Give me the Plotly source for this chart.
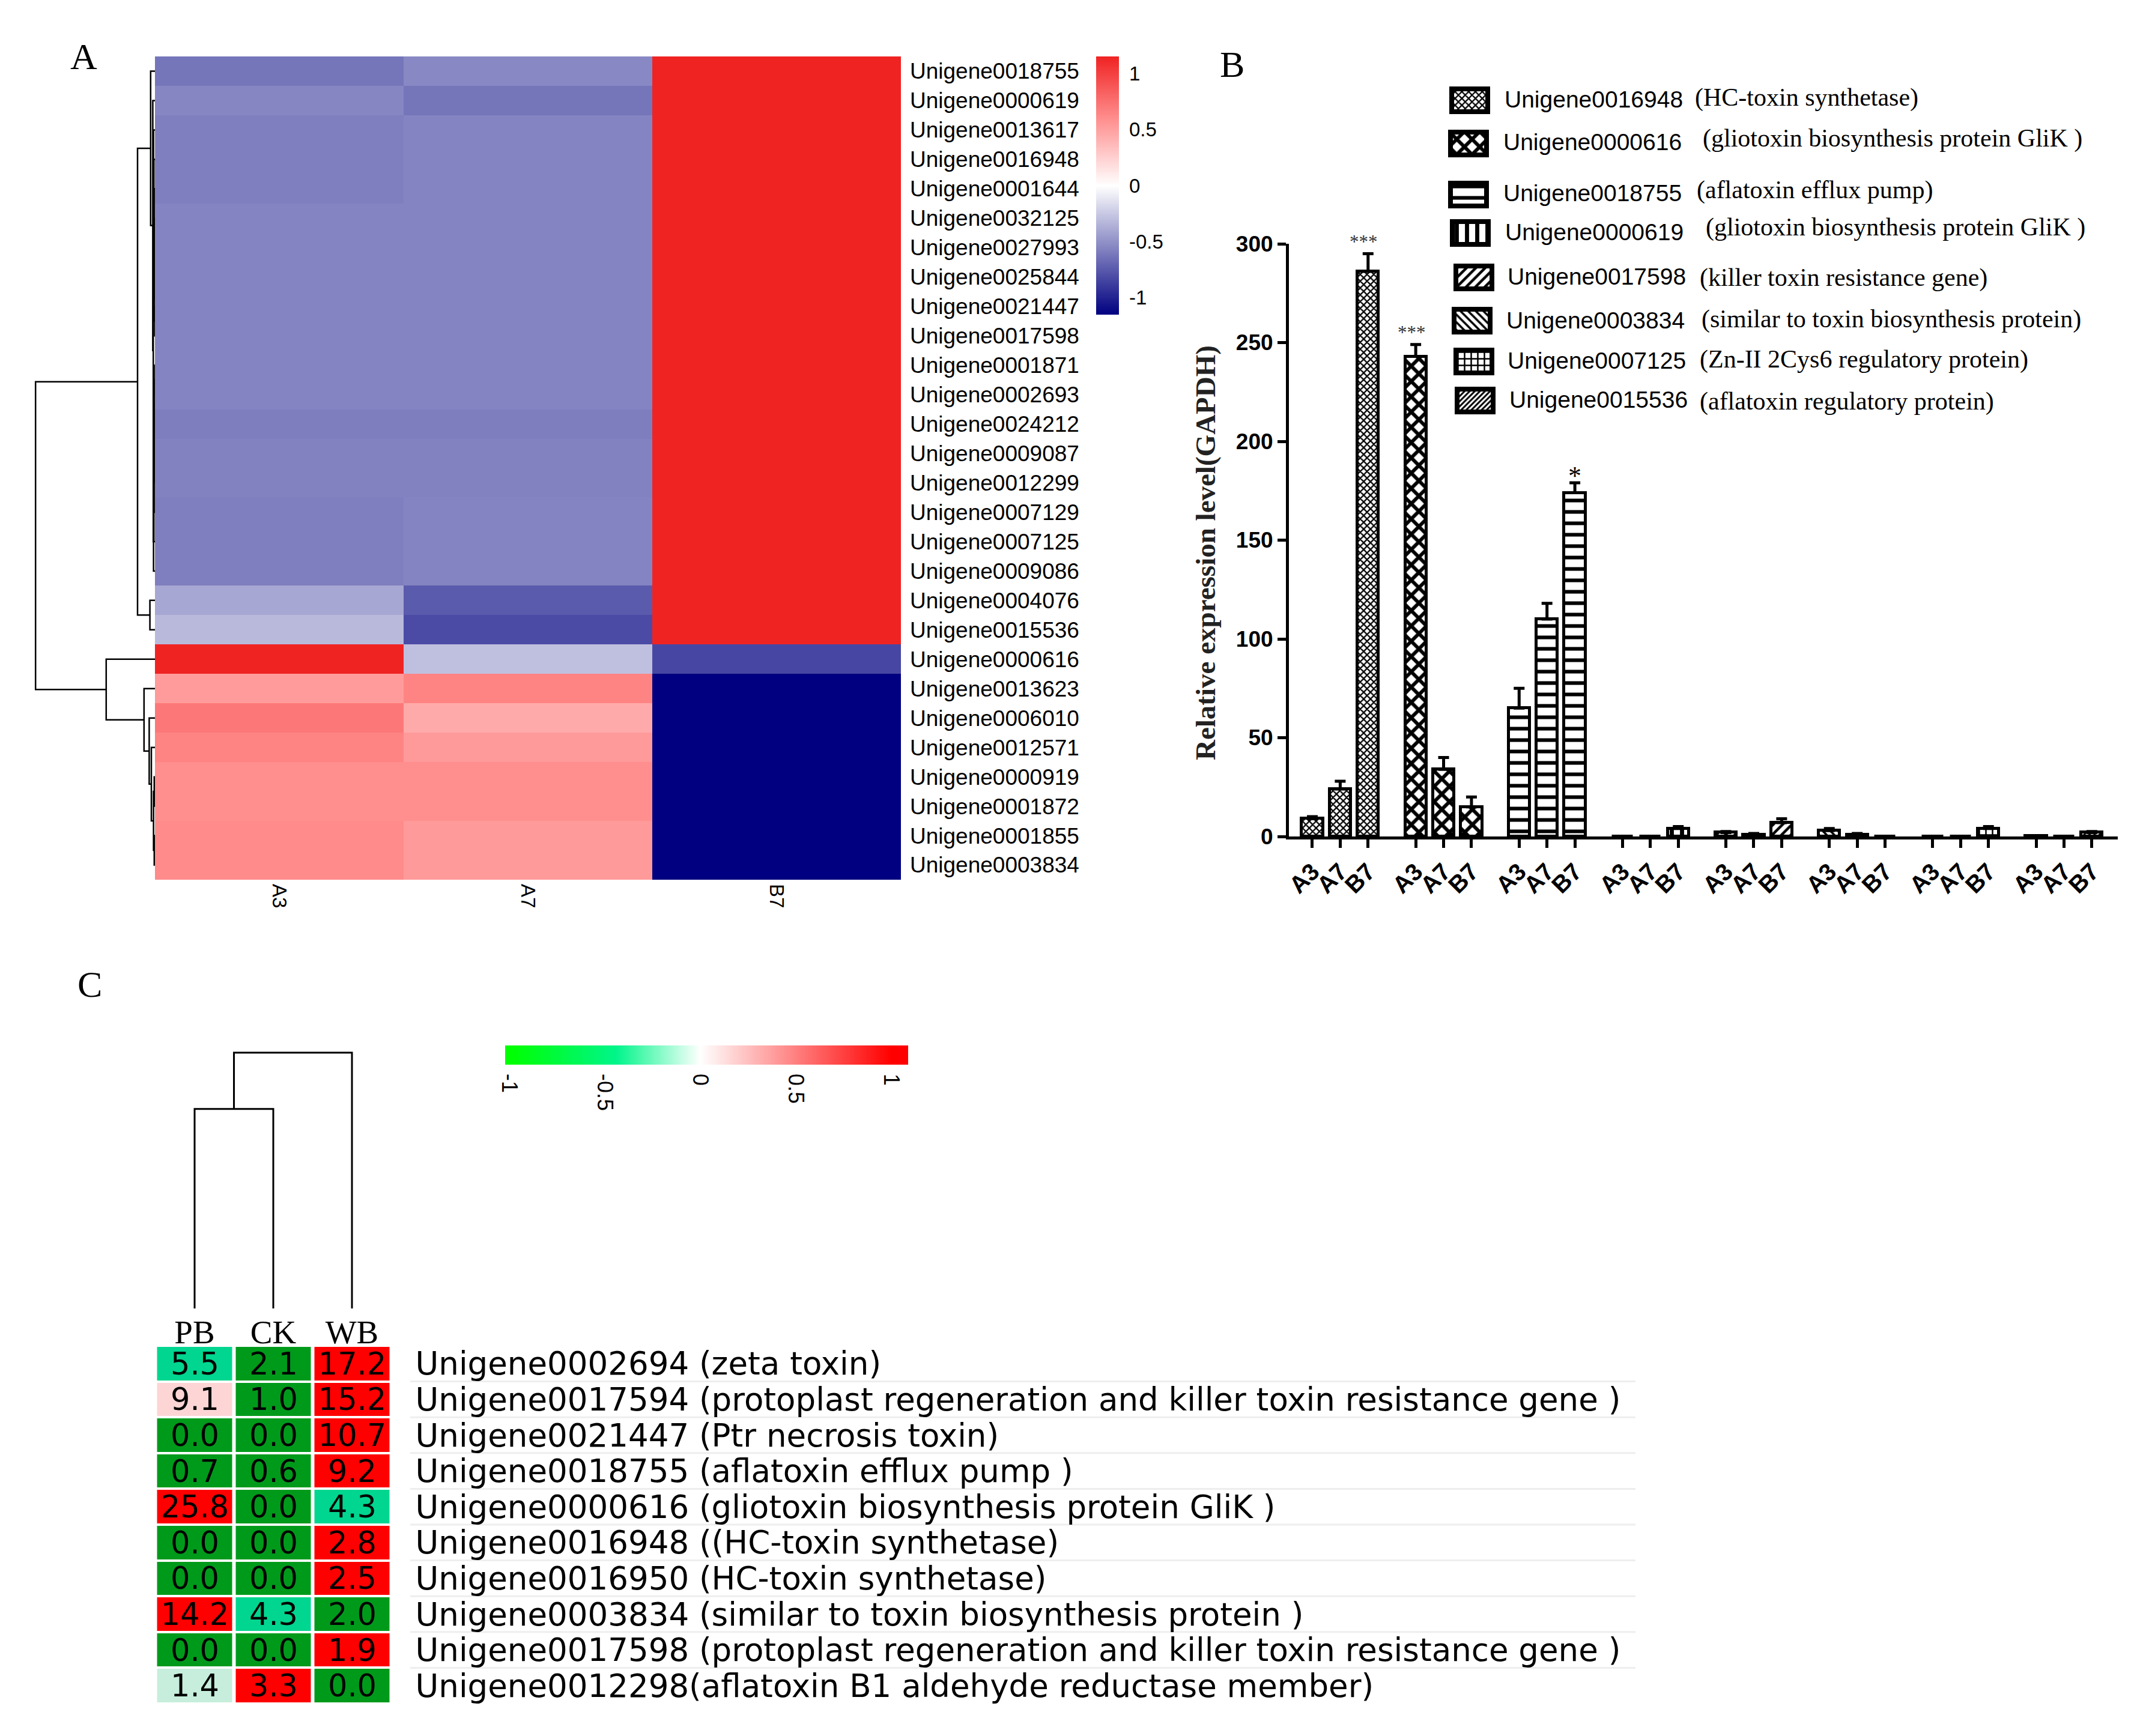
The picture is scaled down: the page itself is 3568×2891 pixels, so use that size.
import numpy as np
import plotly.graph_objects as go

W = 3568
H = 2891
# the page body keeps its default 8 px margin
PAGE_MARGIN = 8

SANS = "Liberation Sans"
SERIF = "Liberation Serif"
WIDE = "DejaVu Sans"

# panel A heatmap
samples_a = ["A3", "A7", "B7"]
genes_a = ["Unigene0018755", "Unigene0000619", "Unigene0013617", "Unigene0016948",
           "Unigene0001644", "Unigene0032125", "Unigene0027993", "Unigene0025844",
           "Unigene0021447", "Unigene0017598", "Unigene0001871", "Unigene0002693",
           "Unigene0024212", "Unigene0009087", "Unigene0012299", "Unigene0007129",
           "Unigene0007125", "Unigene0009086", "Unigene0004076", "Unigene0015536",
           "Unigene0000616", "Unigene0013623", "Unigene0006010", "Unigene0012571",
           "Unigene0000919", "Unigene0001872", "Unigene0001855", "Unigene0003834"]
values_a3 = [-0.627, -0.55, -0.582, -0.582, -0.582, -0.555, -0.555, -0.555, -0.555,
             -0.555, -0.555, -0.555, -0.586, -0.565, -0.565, -0.582, -0.582, -0.582,
             -0.40, -0.316, 1.155, 0.531, 0.714, 0.652, 0.60, 0.60, 0.616, 0.616]
values_a7 = [-0.537, -0.627, -0.555, -0.555, -0.555, -0.555, -0.555, -0.555, -0.555,
             -0.555, -0.555, -0.555, -0.586, -0.565, -0.565, -0.555, -0.555, -0.555,
             -0.744, -0.816, -0.289, 0.652, 0.451, 0.536, 0.60, 0.60, 0.536, 0.536]
values_b7 = [1.155, 1.155, 1.155, 1.155, 1.155, 1.155, 1.155, 1.155, 1.155, 1.155,
             1.155, 1.155, 1.155, 1.155, 1.155, 1.155, 1.155, 1.155, 1.155, 1.155,
             -0.834, -1.155, -1.155, -1.155, -1.155, -1.155, -1.155, -1.155]
cbar_a_ticks = [-1, -0.5, 0, 0.5, 1]
cbar_a_labels = ["-1", "-0.5", "0", "0.5", "1"]

# row tree of panel A: (left node, right node, distance), leaves are row numbers
merges_a = [(8, 9, 0.02), (7, 28, 0.03), (6, 29, 0.04), (5, 30, 0.05), (4, 31, 0.07),
            (3, 32, 0.09), (2, 33, 0.12), (10, 11, 0.02), (35, 12, 0.03), (36, 13, 0.04),
            (37, 14, 0.05), (38, 15, 0.07), (39, 16, 0.09), (40, 17, 0.12), (34, 41, 0.14),
            (1, 42, 0.18), (0, 43, 0.36), (18, 19, 0.42), (44, 45, 1.45), (26, 27, 0.06),
            (24, 25, 0.06), (48, 47, 0.12), (23, 49, 0.30), (22, 50, 0.48), (21, 51, 0.91),
            (20, 52, 4.06), (46, 53, 9.94)]

# panel B bars
bar_samples = ["A3", "A7", "B7"]
bar_genes = ["Unigene0016948", "Unigene0000616", "Unigene0018755", "Unigene0000619",
             "Unigene0017598", "Unigene0003834", "Unigene0007125", "Unigene0015536"]
bar_notes = ["(HC-toxin synthetase)", "(gliotoxin biosynthesis protein GliK )",
             "(aflatoxin efflux pump)", "(gliotoxin biosynthesis protein GliK )",
             "(killer toxin resistance gene)", "(similar to toxin biosynthesis protein)",
             "(Zn-II 2Cys6 regulatory protein)", "(aflatoxin regulatory protein)"]
bar_values = [[9, 24, 286], [243, 34, 15], [65, 110, 174], [0, 0, 4],
              [2, 1, 7], [3, 1, 0], [0, 0, 4], [0.3, 0, 2]]
bar_errors = [[1, 4, 9], [6, 6, 5], [10, 8, 5], [0, 0, 1],
              [0.5, 0.5, 2], [1, 0.5, 0], [0, 0, 1], [0, 0, 0.5]]
# (gene number, sample number, label)
bar_stars = [(0, 2, "***"), (1, 0, "***"), (2, 2, "*")]
bar_ticks_y = [0, 50, 100, 150, 200, 250, 300]

# panel C heatmap
samples_c = ["PB", "CK", "WB"]
genes_c = ["Unigene0002694 (zeta toxin)",
           "Unigene0017594 (protoplast regeneration and killer toxin resistance gene )",
           "Unigene0021447 (Ptr necrosis toxin)",
           "Unigene0018755 (aflatoxin efflux pump )",
           "Unigene0000616 (gliotoxin biosynthesis protein GliK )",
           "Unigene0016948 ((HC-toxin synthetase)",
           "Unigene0016950 (HC-toxin synthetase)",
           "Unigene0003834 (similar to toxin biosynthesis protein )",
           "Unigene0017598 (protoplast regeneration and killer toxin resistance gene )",
           "Unigene0012298(aflatoxin B1 aldehyde reductase member)"]
values_pb = [5.5, 9.1, 0.0, 0.7, 25.8, 0.0, 0.0, 14.2, 0.0, 1.4]
values_ck = [2.1, 1.0, 0.0, 0.6, 0.0, 0.0, 0.0, 4.3, 0.0, 3.3]
values_wb = [17.2, 15.2, 10.7, 9.2, 4.3, 2.8, 2.5, 2.0, 1.9, 0.0]
merges_c = [(0, 1, 0.78), (3, 2, 1.0)]
cbar_c_ticks = [-1, -0.5, 0, 0.5, 1]
cbar_c_labels = ["-1", "-0.5", "0", "0.5", "1"]

# legend of panel B, page pixels
swatch_left = [2417, 2415, 2415, 2418, 2424, 2421, 2424, 2426]
swatch_mid_y = [167, 239, 324, 388, 462, 534, 602, 667]
name_x = [2503, 2501, 2501, 2504, 2508, 2506, 2508, 2511]
name_y = [165, 237, 322, 387, 461, 533, 600, 665]
note_x = [2820, 2833, 2823, 2838, 2828, 2831, 2828, 2828]
note_y = [162, 230, 316, 378, 463, 531, 599, 668]
swatch_w = 60
swatch_h = 38

bar_patterns = [dict(shape="x", size=8, solidity=0.5),
                dict(shape="x", size=18, solidity=0.55),
                dict(shape="-", size=19, solidity=0.32),
                dict(shape="|", size=17, solidity=0.4),
                dict(shape="/", size=11, solidity=0.4),
                dict(shape="\\", size=9, solidity=0.4),
                dict(shape="+", size=11, solidity=0.4),
                dict(shape="/", size=6, solidity=0.5)]


def px_x(px):
    return (px-PAGE_MARGIN)/W


def px_y(py):
    return 1-(py-PAGE_MARGIN)/H


def dendrogram_lines(merges, n_leaves):
    pos = list(range(n_leaves))
    height = [0]*n_leaves
    across = []
    along = []
    for left, right, dist in merges:
        across += [height[left], dist, dist, height[right], None]
        along += [pos[left], pos[left], pos[right], pos[right], None]
        pos.append((pos[left]+pos[right])/2)
        height.append(dist)
    return across, along


fig = go.Figure()

# A
scale_a = [[0, "#000080"], [0.5, "#FFFFFF"], [0.76, "#FF8E8E"], [1, "#F02323"]]
fig.add_trace(go.Heatmap(
    x=samples_a, y=genes_a,
    z=np.array([values_a3, values_a7, values_b7]).T,
    zmin=-1.155, zmax=1.155, colorscale=scale_a, showscale=False,
    xaxis="x", yaxis="y"))
dend_x, dend_y = dendrogram_lines(merges_a, len(genes_a))
fig.add_trace(go.Scatter(x=dend_x, y=dend_y, mode="lines",
                         line=dict(color="black", width=2.5),
                         xaxis="x2", yaxis="y2", showlegend=False))
cbar_a_y = np.linspace(-1.155, 1.155, 128)
fig.add_trace(go.Heatmap(
    x=[0], y=cbar_a_y, z=cbar_a_y.reshape(-1, 1), zmin=-1.155, zmax=1.155, zsmooth="best",
    colorscale=scale_a, showscale=False, xaxis="x8", yaxis="y8"))

# B
slot_gap = 3.71
tick_pos = []
tick_text = []
for i, gene in enumerate(bar_genes):
    x_pos = [i*slot_gap+j for j in range(len(bar_samples))]
    tick_pos += x_pos
    tick_text += bar_samples
    fig.add_trace(go.Bar(
        x=x_pos, y=bar_values[i], width=0.76, name=gene,
        marker=dict(color="white", line=dict(color="black", width=5),
                    pattern=dict(fgcolor="black", bgcolor="white", **bar_patterns[i])),
        error_y=dict(type="data", symmetric=False, array=bar_errors[i],
                     arrayminus=[0]*3, color="black", thickness=5, width=9),
        xaxis="x3", yaxis="y3", showlegend=False))
    fig.add_trace(go.Bar(
        x=[swatch_left[i]+swatch_w/2], y=[swatch_h], base=[swatch_mid_y[i]-swatch_h/2],
        width=[swatch_w], name=gene,
        marker=dict(color="white", line=dict(color="black", width=8),
                    pattern=dict(fgcolor="black", bgcolor="white", **bar_patterns[i])),
        xaxis="x4", yaxis="y4", showlegend=False))
    fig.add_annotation(x=px_x(name_x[i]), y=px_y(name_y[i]), xref="paper", yref="paper",
                       text=gene, showarrow=False, xanchor="left", yanchor="middle",
                       font=dict(family=SANS, size=39, color="black"))
    fig.add_annotation(x=px_x(note_x[i]), y=px_y(note_y[i]), xref="paper", yref="paper",
                       text=bar_notes[i], showarrow=False, xanchor="left", yanchor="middle",
                       font=dict(family=SERIF, size=42, color="black"))

for gene_i, sample_i, label in bar_stars:
    single = label == "*"
    fig.add_annotation(x=gene_i*slot_gap+sample_i-(0 if single else 0.15),
                       y=bar_values[gene_i][sample_i]+bar_errors[gene_i][sample_i],
                       xref="x3", yref="y3", text=label, showarrow=False, yanchor="middle",
                       yshift=12 if single else 20,
                       font=dict(family=SERIF, size=44 if single else 31,
                                 color="black" if single else "#333333"))

fig.add_annotation(x=px_x(2007), y=px_y(921), xref="paper", yref="paper",
                   text="Relative expression level(GAPDH)", showarrow=False, textangle=-90,
                   xanchor="center", yanchor="middle",
                   font=dict(family=SERIF, size=47, weight="bold", color="#222222"))

# C
z_c = np.array([values_pb, values_ck, values_wb]).T
row_min = z_c.min(axis=1, keepdims=True)
row_max = z_c.max(axis=1, keepdims=True)
scaled_c = 2*(z_c-row_min)/(row_max-row_min)-1
fig.add_trace(go.Heatmap(
    x=samples_c, y=genes_c, z=scaled_c, zmin=-1, zmax=1,
    text=z_c, texttemplate="%{text:.1f}",
    textfont=dict(family=WIDE, size=51, color="black"),
    colorscale=[[0, "#009A1B"], [0.08, "#009A1B"], [0.16, "#00D68F"], [0.23, "#00D68F"],
                [0.425, "#C8EEDC"], [0.5, "#FFFFFF"], [0.57, "#FDD5D5"], [0.8, "#FF2020"],
                [1, "#FF0000"]],
    showscale=False, xgap=6, ygap=4, xaxis="x6", yaxis="y6"))
dend_h, dend_p = dendrogram_lines(merges_c, len(samples_c))
fig.add_trace(go.Scatter(x=dend_p, y=dend_h, mode="lines",
                         line=dict(color="black", width=3),
                         xaxis="x7", yaxis="y7", showlegend=False))
cbar_x = np.linspace(-1.02, 1.09, 128)
fig.add_trace(go.Heatmap(
    x=cbar_x, y=[0], z=[cbar_x], zmin=-1, zmax=1, zsmooth="best", showscale=False,
    colorscale=[[0, "#00FF00"], [0.28, "#00F58A"], [0.5, "#FFFFFF"], [1, "#FF0000"]],
    xaxis="x5", yaxis="y5"))
for i in range(len(genes_c)-1):
    fig.add_shape(type="line", xref="paper", yref="y6", layer="below",
                  x0=px_x(683), x1=px_x(2723), y0=i+0.5, y1=i+0.5,
                  line=dict(color="#EEEEEE", width=3))

for label, px, py in [("A", 139, 94), ("B", 2051, 107), ("C", 149, 1639)]:
    fig.add_annotation(x=px_x(px), y=px_y(py), xref="paper", yref="paper", text=label,
                       showarrow=False, xanchor="center", yanchor="middle",
                       font=dict(family=SERIF, size=62, color="black"))

hidden = dict(visible=False, showgrid=False, zeroline=False)
fig.update_layout(
    template="none",
    width=W, height=H, autosize=False,
    margin=dict(l=0, r=0, t=0, b=0),
    paper_bgcolor="white", plot_bgcolor="white",
    barmode="overlay", bargap=0,
    # A
    xaxis=dict(domain=[px_x(258), px_x(1500)], anchor="y", ticks="", showgrid=False,
               tickangle=90, ticklabelstandoff=6,
               tickfont=dict(family=SANS, size=33, color="black")),
    yaxis=dict(domain=[px_y(1465), px_y(94)], anchor="x", side="right", ticks="",
               autorange="reversed", dtick=1, showgrid=False, ticklabelstandoff=14,
               tickfont=dict(family=SANS, size=37, color="black")),
    xaxis2=dict(domain=[px_x(57), px_x(258)], anchor="y2", range=[10.05, 0], **hidden),
    yaxis2=dict(domain=[px_y(1465), px_y(94)], anchor="x2", range=[27.5, -0.5], **hidden),
    xaxis8=dict(domain=[px_x(1825), px_x(1863)], anchor="y8", **hidden),
    yaxis8=dict(domain=[px_y(524), px_y(94)], anchor="x8", side="right", range=[-1.155, 1.155],
                tickvals=cbar_a_ticks, ticktext=cbar_a_labels, ticks="", showgrid=False,
                zeroline=False, ticklabelstandoff=16,
                tickfont=dict(family=SANS, size=33, color="black")),
    # B
    xaxis3=dict(domain=[px_x(2146), px_x(3526)], anchor="y3", range=[-0.84, 28.9],
                tickvals=tick_pos, ticktext=tick_text, tickangle=-45, ticks="outside",
                ticklen=14, tickwidth=5, tickcolor="black", showline=True, linewidth=5,
                linecolor="black", showgrid=False, zeroline=False,
                tickfont=dict(family=SANS, size=40, weight="bold", color="black")),
    yaxis3=dict(domain=[px_y(1393), px_y(406)], anchor="x3", range=[0, 300],
                tickvals=bar_ticks_y, ticks="outside", ticklen=14, tickwidth=5,
                tickcolor="black", showline=True, linewidth=5, linecolor="black",
                showgrid=False, zeroline=False,
                tickfont=dict(family=SANS, size=37, weight="bold", color="black")),
    xaxis4=dict(domain=[px_x(2400), px_x(2500)], anchor="y4", range=[2400, 2500], **hidden),
    yaxis4=dict(domain=[px_y(700), px_y(130)], anchor="x4", range=[700, 130], **hidden),
    # C
    xaxis5=dict(domain=[px_x(841), px_x(1512)], anchor="y5", range=[-1.02, 1.09],
                tickvals=cbar_c_ticks, ticktext=cbar_c_labels, tickangle=90, ticks="",
                showgrid=False, zeroline=False, ticklabelstandoff=14,
                tickfont=dict(family=SANS, size=36, color="black")),
    yaxis5=dict(domain=[px_y(1773), px_y(1741)], anchor="x5", **hidden),
    xaxis6=dict(domain=[px_x(258.5), px_x(651.5)], anchor="y6", side="top", ticks="",
                showgrid=False, tickangle=0, ticklabelstandoff=-8,
                tickfont=dict(family=SERIF, size=55, color="black")),
    yaxis6=dict(domain=[px_y(2837), px_y(2241)], anchor="x6", side="right", ticks="",
                autorange="reversed", dtick=1, showgrid=False, ticklabelstandoff=39,
                tickfont=dict(family=WIDE, size=53, color="black")),
    xaxis7=dict(domain=[px_x(258.5), px_x(651.5)], anchor="y7", range=[-0.5, 2.5], **hidden),
    yaxis7=dict(domain=[px_y(2179), px_y(1750)], anchor="x7", range=[0, 1.007], **hidden),
)

fig.write_html("out.html")
